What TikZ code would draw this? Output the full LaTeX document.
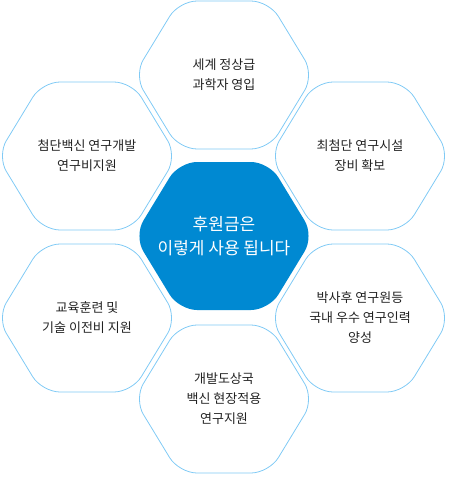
\documentclass[tikz,border=0pt]{standalone}
\usepackage{fontspec}
\newfontfamily\kr{Noto Sans CJK KR}
\usepackage{tikz}
\definecolor{hexline}{RGB}{128,202,245}
\definecolor{hexblue}{RGB}{0,137,210}
\definecolor{hextext}{RGB}{34,34,34}
\tikzset{
  hexagon/.pic={\path[pic actions] (0,-74) -- (45,-74) -- (90,0) -- (45,74) -- (-45,74) -- (-90,0) -- (-45,-74) -- cycle;},
  hexcell/.style={draw=hexline,line width=0.8pt,rounded corners=18pt},
  hexcore/.style={fill=hexblue,rounded corners=18pt},
  hextxt/.style={align=center,text=hextext,font=\kr\fontsize{13pt}{20pt}\selectfont},
  coretxt/.style={align=center,text=white,font=\kr\fontsize{17pt}{24pt}\selectfont}
}
\begin{document}
\begin{tikzpicture}[x=1pt,y=-1pt]
  \useasboundingbox (0,0) rectangle (449,477);
  \coordinate (core) at (224,236);
  \coordinate (top) at (224,75);
  \coordinate (upleft) at (87,156);
  \coordinate (upright) at (360,156);
  \coordinate (lowleft) at (87,318);
  \coordinate (lowright) at (360,318);
  \coordinate (bottom) at (224,399);
  % honeycomb
  \pic[hexcore] at (core) {hexagon};
  \foreach \cell in {top,upleft,upright,lowleft,lowright,bottom}
    \pic[hexcell] at (\cell) {hexagon};
  % texts
  \node[coretxt] (coretext) at (core) {후원금은\\이렇게 사용 됩니다};
  \node[hextxt] (toptext) at (top) {세계 정상급\\과학자 영입};
  \node[hextxt] (uplefttext) at (upleft) {첨단백신 연구개발\\연구비지원};
  \node[hextxt] (uprighttext) at (upright) {최첨단 연구시설\\장비 확보};
  \node[hextxt] (lowlefttext) at (lowleft) {교육훈련 및\\기술 이전비 지원};
  \node[hextxt] (lowrighttext) at (lowright) {박사후 연구원등\\국내 우수 연구인력\\양성};
  \node[hextxt] (bottomtext) at (bottom) {개발도상국\\백신 현장적용\\연구지원};
\end{tikzpicture}
\end{document}
